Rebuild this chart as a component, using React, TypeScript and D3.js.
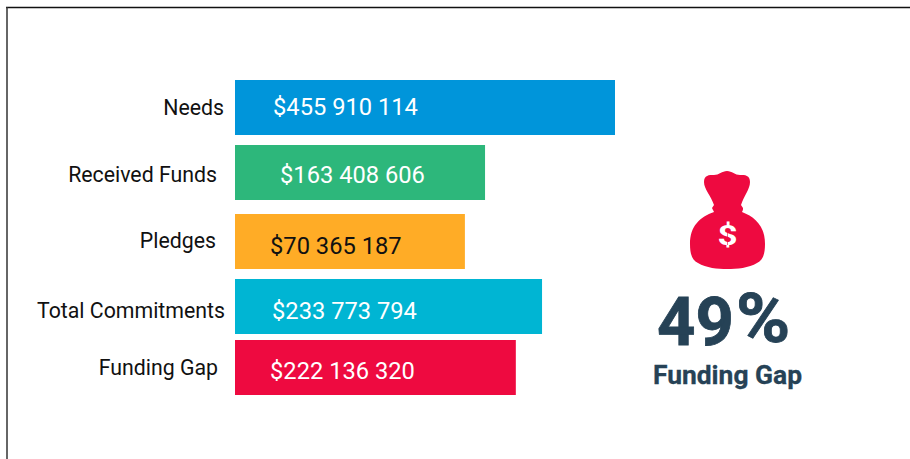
import React from "react";
import * as d3 from "d3";

const categories = ["Needs", "Received Funds", "Pledges", "Total Commitments", "Funding Gap"];
const amounts = ["$455 910 114", "$163 408 606", "$70 365 187", "$233 773 794", "$222 136 320"];
// Drawn bar lengths, in % of the longest bar (the reference is not to scale).
const barLengths = [100, 65.8, 60.5, 80.8, 73.9];
const colors = ["#0095DA", "#2DB77B", "#FFAC26", "#00B5D3", "#EE0A40"];
const amountColors = ["#fff", "#fff", "#111", "#fff", "#fff"];
const gapPercent = "49";
const gapLabel = "Funding Gap";

// Layout (hand-placed in the reference)
const barX = 235;
const barH = 55;
const barTops = [80, 145, 214, 279, 340];
const labelRight = [224, 217, 216, 225, 218];
const labelBase = [114.5, 181.5, 248, 318, 374.5];
const amountX = [273, 280, 270, 272, 270];
const amountBase = [115, 182.5, 254, 318.5, 379];

const x = d3.scaleLinear().domain([0, 100]).range([0, 380]);
const FONT = "Roboto, sans-serif";

const BAG =
  "M727 171 C722 171 719 175 714 175 C709 175 704 175 704 182 C704 189 711 196 714 205 L712 208 C713 210 713 210 714 212 C700 217 690 226 690 244 C690 254 692 260 698 263 C706 268 718 269 727 269 C737 269 749 268 757 263 C763 260 765 254 765 244 C765 226 755 217 742 212 C743 210 743 210 743 208 L741 205 C744 196 750 189 750 182 C750 175 745 175 740 175 C735 175 732 171 727 171 Z";

export default function App() {
  return (
    <svg
      width={910}
      height={459}
      viewBox="0 0 910 459"
      style={{ position: "absolute", left: 0, top: 0, background: "#fff", fontFamily: FONT }}
    >
      <line x1={6} y1={7.5} x2={910} y2={7.5} stroke="#111" strokeWidth={1.6} />
      <line x1={7} y1={7} x2={7} y2={459} stroke="#333" strokeWidth={1.5} />
      {categories.map((c, i) => (
        <g key={c}>
          <rect x={barX} y={barTops[i]} width={x(barLengths[i])} height={barH} fill={colors[i]} />
          <text x={labelRight[i]} y={labelBase[i]} textAnchor="end" fontSize={21.3} fill="#111">
            {c}
          </text>
          <text x={amountX[i]} y={amountBase[i]} fontSize={23.7} fill={amountColors[i]}>
            {amounts[i]}
          </text>
        </g>
      ))}
      <path d={BAG} fill="#EE0A40" />
      <text x={0} y={0} transform="translate(727.5 245) scale(1.3 1)" textAnchor="middle" fontSize={27} fontWeight={700} fill="#fff">
        $
      </text>
      <line x1={727.5} y1={229} x2={727.5} y2={245} stroke="#EE0A40" strokeWidth={1} opacity={0.6} />
      <text x={657} y={345} fontSize={67} fontWeight={700} stroke="#264256" strokeWidth={0.8} fill="#264256">
        {gapPercent}
      </text>
      <text x={0} y={0} transform="translate(736 342) scale(1.08 1)" fontSize={68} fontWeight={700} stroke="#264256" strokeWidth={0.8} fill="#264256">
        %
      </text>
      <text x={727.5} y={384} textAnchor="middle" fontSize={26.4} fontWeight={700} stroke="#264256" strokeWidth={0.3} fill="#264256">
        {gapLabel}
      </text>
    </svg>
  );
}
